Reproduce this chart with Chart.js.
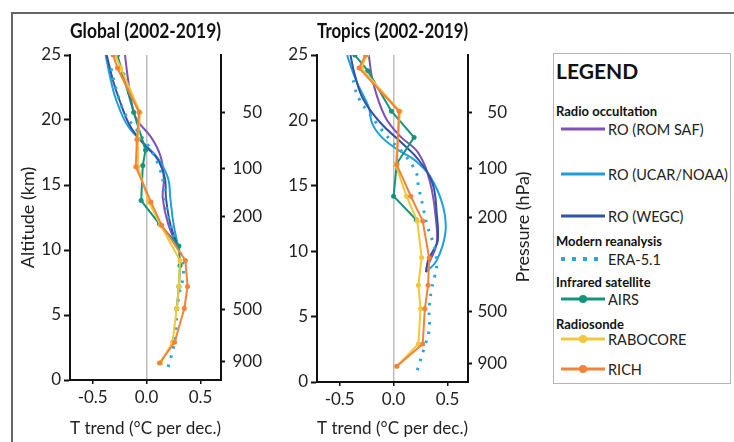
<!DOCTYPE html>
<html>
<head>
<meta charset="utf-8">
<script src="https://cdn.jsdelivr.net/npm/chart.js@4.4.0/dist/chart.umd.min.js"></script>
<style>
  body { margin: 0; background: #fff; font-family: Lato, "Open Sans", sans-serif; }
  #wrap { position: relative; width: 734px; height: 442px; overflow: hidden; }
  .frameTop { position: absolute; left: 11px; top: 12px; width: 723px; height: 2px; background: #666; }
  .frameLeft { position: absolute; left: 11px; top: 12px; width: 2px; height: 430px; background: #666; }
  canvas { position: absolute; top: 0; }
  #legend { position: absolute; left: 553px; top: 53px; width: 176px; height: 329px; border: 1px solid #b5b5b5; color: #111; }
  #legend div { position: absolute; transform: translateY(-50%); white-space: nowrap; }
  .head { left: 2px; font-weight: bold; font-size: 13px; }
  .lbl { left: 54px; font-size: 14.5px; color: #222; }
  .smp { left: 7px; width: 44px; height: 3px; }
  .dot { width: 8px; height: 8px; border-radius: 50%; }
</style>
</head>
<body>
<div id="wrap">
  <div class="frameTop"></div>
  <div class="frameLeft"></div>
  <canvas id="cGlobal" width="268" height="442" style="left:0px"></canvas>
  <canvas id="cTropics" width="277" height="442" style="left:268px"></canvas>
  <div id="legend"></div>
</div>
<script>
// tick labels
const xTicks = [-0.5, 0.0, 0.5];
const pressureLabels = [50, 100, 200, 500, 900];
const pressureAlt = [20.6, 16.3, 12.6, 5.4, 1.4];

// ---- Global (2002-2019) ----
const gRomAlt = [10.0, 12.0, 14.0, 15.5, 17.2, 18.7, 20.0, 21.0, 23.0, 25.0];
const gRomT   = [0.30, 0.20, 0.15, 0.16, 0.13, 0.04, -0.09, -0.13, -0.17, -0.20];
const gUcarAlt = [10.0, 12.0, 14.0, 15.5, 17.0, 18.0, 19.5, 21.5, 23.0, 25.0];
const gUcarT   = [0.30, 0.25, 0.22, 0.20, 0.11, 0.00, -0.17, -0.28, -0.33, -0.38];
const gWegcAlt = [10.0, 12.0, 14.0, 15.5, 17.0, 18.0, 19.5, 21.5, 23.0, 25.0];
const gWegcT   = [0.30, 0.22, 0.18, 0.17, 0.10, -0.01, -0.15, -0.25, -0.31, -0.37];
const gEraAlt = [1.0, 2.2, 3.5, 5.0, 6.5, 8.0, 9.3, 10.5, 12.0, 13.8, 15.0, 16.3, 17.7, 19.0, 20.5, 22.3, 24.0];
const gEraT   = [0.20, 0.24, 0.27, 0.28, 0.30, 0.34, 0.33, 0.28, 0.22, 0.17, 0.16, 0.12, 0.04, -0.07, -0.20, -0.28, -0.33];
const gAirsAlt = [5.5, 7.2, 8.8, 10.3, 12.0, 13.8, 16.5, 17.7, 20.6, 23.5, 25.0];
const gAirsT   = [0.28, 0.30, 0.31, 0.30, 0.12, -0.05, -0.035, -0.01, -0.12, -0.22, -0.27];
const gSondeAlt = [1.3, 2.9, 5.5, 7.2, 9.2, 11.9, 13.7, 16.4, 18.5, 20.6, 24.0, 25.0];
const gRabocoreT = [0.13, 0.24, 0.28, 0.30, 0.31, 0.13, 0.02, -0.08, -0.08, -0.06, -0.24, -0.29];
const gRichT     = [0.12, 0.26, 0.35, 0.38, 0.36, 0.14, 0.04, -0.10, -0.09, -0.07, -0.27, -0.31];

// ---- Tropics (2002-2019) ----
const tRomAlt = [8.6, 9.3, 10.6, 12.6, 15.2, 17.5, 18.8, 20.3, 22.9, 25.0];
const tRomT   = [0.30, 0.34, 0.40, 0.39, 0.34, 0.23, 0.06, -0.08, -0.19, -0.23];
const tUcarAlt = [8.4, 9.3, 11.4, 13.4, 15.7, 17.0, 17.8, 18.8, 19.8, 21.0, 22.9, 24.7, 25.0];
const tUcarT   = [0.30, 0.40, 0.48, 0.46, 0.34, 0.19, 0.03, -0.12, -0.20, -0.23, -0.34, -0.42, -0.43];
const tWegcAlt = [8.4, 9.3, 10.1, 10.8, 12.9, 15.2, 17.0, 18.4, 19.8, 21.6, 23.5, 25.0];
const tWegcT   = [0.30, 0.32, 0.37, 0.41, 0.40, 0.36, 0.23, 0.06, -0.12, -0.28, -0.36, -0.40];
const tEraAlt = [0.9, 2.5, 4.0, 5.5, 7.0, 8.0, 9.2, 10.8, 12.0, 13.5, 15.0, 16.0, 17.5, 18.5, 19.7, 20.8, 21.5, 22.5, 23.5];
const tEraT   = [0.22, 0.28, 0.33, 0.33, 0.35, 0.38, 0.40, 0.36, 0.31, 0.27, 0.23, 0.21, 0.09, -0.03, -0.15, -0.25, -0.31, -0.36, -0.38];
const tAirsAlt = [12.4, 14.2, 16.7, 18.7, 20.7, 23.8, 25.0];
const tAirsT   = [0.21, 0.00, 0.03, 0.19, -0.02, -0.24, -0.36];
const tSondeAlt = [1.2, 2.9, 5.6, 7.4, 9.5, 12.3, 14.2, 16.6, 20.7, 24.0, 25.0];
const tRabocoreT = [0.03, 0.23, 0.25, 0.23, 0.26, 0.22, 0.12, 0.02, 0.06, -0.30, -0.25];
const tRichT     = [0.03, 0.27, 0.29, 0.32, 0.33, 0.27, 0.16, 0.03, 0.05, -0.32, -0.26];

const colors = {
  rom: '#7d53b3', ucar: '#1e9fdb', wegc: '#3152a6', era: '#2ba6dd',
  airs: '#13957a', rabocore: '#f3c63c', rich: '#f0843a'
};

Chart.defaults.font.family = 'Lato, "Open Sans", sans-serif';
Chart.defaults.color = '#222';

function pts(alt, t) {
  return alt.map((a, i) => ({ x: t[i], y: a }));
}

function roLine(label, alt, t, color) {
  return { label, data: pts(alt, t), borderColor: color, borderWidth: 2,
    pointRadius: 0, tension: 0.4, showLine: true };
}
function markedLine(label, alt, t, color) {
  return { label, data: pts(alt, t), borderColor: color, backgroundColor: color,
    borderWidth: 2, pointRadius: 2.5, pointBorderWidth: 0, tension: 0, showLine: true };
}
function dottedLine(label, alt, t, color) {
  return { label, data: pts(alt, t), borderColor: color, borderWidth: 3,
    borderDash: [2.5, 7], pointRadius: 0, tension: 0.4, showLine: true };
}

const pressureTitle = {
  id: 'pressureTitle',
  afterDraw(chart, args, opts) {
    if (!opts.show) return;
    const ctx = chart.ctx;
    ctx.save();
    ctx.translate(opts.x, opts.y);
    ctx.rotate(-Math.PI / 2);
    ctx.font = '18px Lato, "Open Sans", sans-serif';
    ctx.fillStyle = '#222';
    ctx.textAlign = 'center';
    ctx.textBaseline = 'middle';
    ctx.fillText('Pressure (hPa)', 0, 0);
    ctx.restore();
  }
};

function makePanel(id, title, sets, geo) {
  new Chart(document.getElementById(id), {
    type: 'scatter',
    data: { datasets: sets },
    plugins: [pressureTitle],
    options: {
      responsive: false,
      animation: false,
      layout: { padding: { top: 0, left: 0, bottom: 0, right: geo.padR } },
      plugins: {
        legend: { display: false },
        tooltip: { enabled: false },
        title: { display: true, text: title, fullSize: false, color: '#111',
          font: { size: 20, weight: 'bold' }, padding: { top: 20, bottom: 11 } },
        pressureTitle: { show: geo.pressTitle, x: 255, y: 227 }
      },
      scales: {
        x: {
          type: 'linear', min: -0.71, max: 0.69,
          afterBuildTicks: s => { s.ticks = xTicks.map(v => ({ value: v })); },
          afterFit: s => { s.height = geo.bottomH; },
          ticks: { callback: v => v.toFixed(1), font: { size: 17 }, padding: 3, maxRotation: 0, autoSkip: false },
          grid: { color: c => (c.tick && c.tick.value === 0) ? '#bdbdbd' : 'rgba(0,0,0,0)',
            lineWidth: 1.5, tickColor: '#111', tickLength: 4, tickWidth: 1.5 },
          border: { color: '#111', width: 2 },
          title: { display: true, text: 'T trend (°C per dec.)', font: { size: 18 }, padding: { top: 0, bottom: 3 } }
        },
        y: {
          type: 'linear', position: 'left', min: 0, max: 25,
          afterFit: s => { s.width = geo.leftW; },
          ticks: { stepSize: 5, font: { size: 17 }, padding: 3 },
          grid: { drawOnChartArea: false, tickLength: 6, tickColor: '#111', tickWidth: 2 },
          border: { color: '#111', width: 2 },
          title: { display: geo.altTitle, text: 'Altitude (km)', font: { size: 18 }, padding: { top: 17, bottom: 0 } }
        },
        y2: {
          type: 'linear', position: 'right', min: 0, max: 25,
          afterBuildTicks: s => { s.ticks = pressureAlt.map(v => ({ value: v })); },
          afterFit: s => { s.width = geo.rightW; },
          ticks: { callback: (v, i) => String(pressureLabels[i]), crossAlign: 'far',
            font: { size: 17 }, padding: 8, autoSkip: false },
          grid: { drawOnChartArea: false, tickLength: 4, tickColor: '#111', tickWidth: 2 },
          border: { color: '#111', width: 2 }
        }
      }
    }
  });
}

makePanel('cGlobal', 'Global (2002-2019)', [
  markedLine('RICH', gSondeAlt, gRichT, colors.rich),
  markedLine('RABOCORE', gSondeAlt, gRabocoreT, colors.rabocore),
  markedLine('AIRS', gAirsAlt, gAirsT, colors.airs),
  dottedLine('ERA-5.1', gEraAlt, gEraT, colors.era),
  roLine('RO (WEGC)', gWegcAlt, gWegcT, colors.wegc),
  roLine('RO (UCAR/NOAA)', gUcarAlt, gUcarT, colors.ucar),
  roLine('RO (ROM SAF)', gRomAlt, gRomT, colors.rom)
], { leftW: 70, rightW: 41, padR: 6, bottomH: 62, altTitle: true, pressTitle: false });

makePanel('cTropics', 'Tropics (2002-2019)', [
  markedLine('RICH', tSondeAlt, tRichT, colors.rich),
  markedLine('RABOCORE', tSondeAlt, tRabocoreT, colors.rabocore),
  markedLine('AIRS', tAirsAlt, tAirsT, colors.airs),
  dottedLine('ERA-5.1', tEraAlt, tEraT, colors.era),
  roLine('RO (WEGC)', tWegcAlt, tWegcT, colors.wegc),
  roLine('RO (UCAR/NOAA)', tUcarAlt, tUcarT, colors.ucar),
  roLine('RO (ROM SAF)', tRomAlt, tRomT, colors.rom)
], { leftW: 49, rightW: 39, padR: 38, bottomH: 60, altTitle: false, pressTitle: true });

// grouped legend
const legendRows = [
  { kind: 'title', text: 'LEGEND', y: 16 },
  { kind: 'head', text: 'Radio occultation', y: 57 },
  { kind: 'solid', key: 'rom', text: 'RO (ROM SAF)', y: 75 },
  { kind: 'solid', key: 'ucar', text: 'RO (UCAR/NOAA)', y: 120 },
  { kind: 'solid', key: 'wegc', text: 'RO (WEGC)', y: 162 },
  { kind: 'head', text: 'Modern reanalysis', y: 187 },
  { kind: 'dots', key: 'era', text: 'ERA-5.1', y: 205 },
  { kind: 'head', text: 'Infrared satellite', y: 228 },
  { kind: 'marker', key: 'airs', text: 'AIRS', y: 245 },
  { kind: 'head', text: 'Radiosonde', y: 270 },
  { kind: 'marker', key: 'rabocore', text: 'RABOCORE', y: 285 },
  { kind: 'marker', key: 'rich', text: 'RICH', y: 315 }
];
const lg = document.getElementById('legend');
legendRows.forEach(r => {
  if (r.kind === 'title') {
    lg.insertAdjacentHTML('beforeend', `<div class="head" style="top:${r.y}px;font-size:21px">${r.text}</div>`);
    return;
  }
  if (r.kind === 'head') {
    lg.insertAdjacentHTML('beforeend', `<div class="head" style="top:${r.y}px">${r.text}</div>`);
    return;
  }
  const c = colors[r.key];
  let bg = c;
  if (r.kind === 'dots') bg = `repeating-linear-gradient(to right, ${c} 0 4px, transparent 4px 11px)`;
  let html = `<div class="smp" style="top:${r.y}px;background:${bg};height:${r.kind === 'dots' ? 4 : 3}px"></div>`;
  if (r.kind === 'marker') html += `<div class="dot" style="top:${r.y}px;left:25px;background:${c}"></div>`;
  html += `<div class="lbl" style="top:${r.y}px">${r.text}</div>`;
  lg.insertAdjacentHTML('beforeend', html);
});
</script>
</body>
</html>
